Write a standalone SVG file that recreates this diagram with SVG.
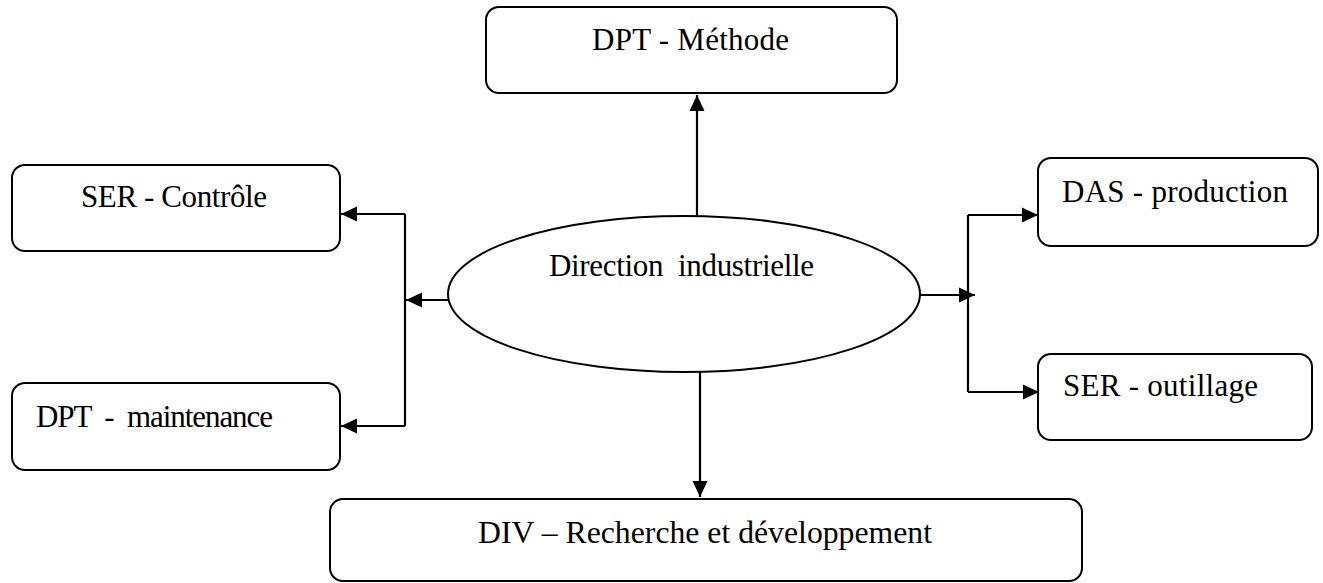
<svg xmlns="http://www.w3.org/2000/svg" width="1323" height="583" viewBox="0 0 1323 583">
  <style>
    .box { fill: #ffffff; stroke: #000000; stroke-width: 2; }
    .lbl { font-family: 'Liberation Serif', serif; font-size: 31px; fill: #000000; white-space: pre; }
    .wire { fill: none; stroke: #000000; stroke-width: 2.2; }
  </style>
  <defs>
    <marker id="arrow" markerUnits="userSpaceOnUse" markerWidth="17" markerHeight="17" viewBox="0 0 17 17" refX="16" refY="8.5" orient="auto">
      <path d="M0,1 L16,8.5 L0,16 Z" fill="#000000"/>
    </marker>
  </defs>
  <rect width="1323" height="583" fill="#ffffff"/>

  <!-- connectors -->
  <g id="connectors">
    <!-- up to methods department -->
    <line class="wire" x1="697" y1="216" x2="697" y2="95" marker-end="url(#arrow)"/>
    <!-- down to R&D division -->
    <line class="wire" x1="700" y1="372" x2="700" y2="497" marker-end="url(#arrow)"/>
    <!-- left branch -->
    <line class="wire" x1="448" y1="300" x2="406" y2="300" marker-end="url(#arrow)"/>
    <polyline class="wire" points="405,214 405,426"/>
    <line class="wire" x1="405" y1="214" x2="341" y2="214" marker-end="url(#arrow)"/>
    <line class="wire" x1="405" y1="426" x2="341" y2="426" marker-end="url(#arrow)"/>
    <!-- right branch -->
    <line class="wire" x1="920" y1="295" x2="975" y2="295" marker-end="url(#arrow)"/>
    <polyline class="wire" points="968,215 968,392"/>
    <line class="wire" x1="968" y1="215" x2="1038" y2="215" marker-end="url(#arrow)"/>
    <line class="wire" x1="968" y1="392" x2="1039" y2="392" marker-end="url(#arrow)"/>
  </g>

  <g id="direction-industrielle">
    <ellipse class="box" cx="684" cy="294" rx="236" ry="78"/>
    <text class="lbl" x="549" y="276" textLength="265" lengthAdjust="spacing" xml:space="preserve">Direction  industrielle</text>
  </g>

  <g id="dpt-methode">
    <rect class="box" x="486" y="7" width="411" height="86" rx="13" ry="13"/>
    <text class="lbl" x="592" y="50" textLength="197" lengthAdjust="spacing">DPT - Méthode</text>
  </g>

  <g id="ser-controle">
    <rect class="box" x="12" y="165" width="328" height="86" rx="13" ry="13"/>
    <text class="lbl" x="81" y="207" textLength="186" lengthAdjust="spacing">SER - Contrôle</text>
  </g>

  <g id="dpt-maintenance">
    <rect class="box" x="12" y="383" width="328" height="87" rx="13" ry="13"/>
    <text class="lbl" x="36" y="427" textLength="237" lengthAdjust="spacing" xml:space="preserve">DPT  -  maintenance</text>
  </g>

  <g id="das-production">
    <rect class="box" x="1038" y="158" width="280" height="88" rx="13" ry="13"/>
    <text class="lbl" x="1062" y="202" textLength="226" lengthAdjust="spacing">DAS - production</text>
  </g>

  <g id="ser-outillage">
    <rect class="box" x="1038" y="354" width="274" height="86" rx="13" ry="13"/>
    <text class="lbl" x="1063" y="396" textLength="195" lengthAdjust="spacing">SER - outillage</text>
  </g>

  <g id="div-recherche">
    <rect class="box" x="330" y="499" width="752" height="82" rx="13" ry="13"/>
    <text class="lbl" x="478" y="543" textLength="454" lengthAdjust="spacingAndGlyphs">DIV – Recherche et développement</text>
  </g>
</svg>
